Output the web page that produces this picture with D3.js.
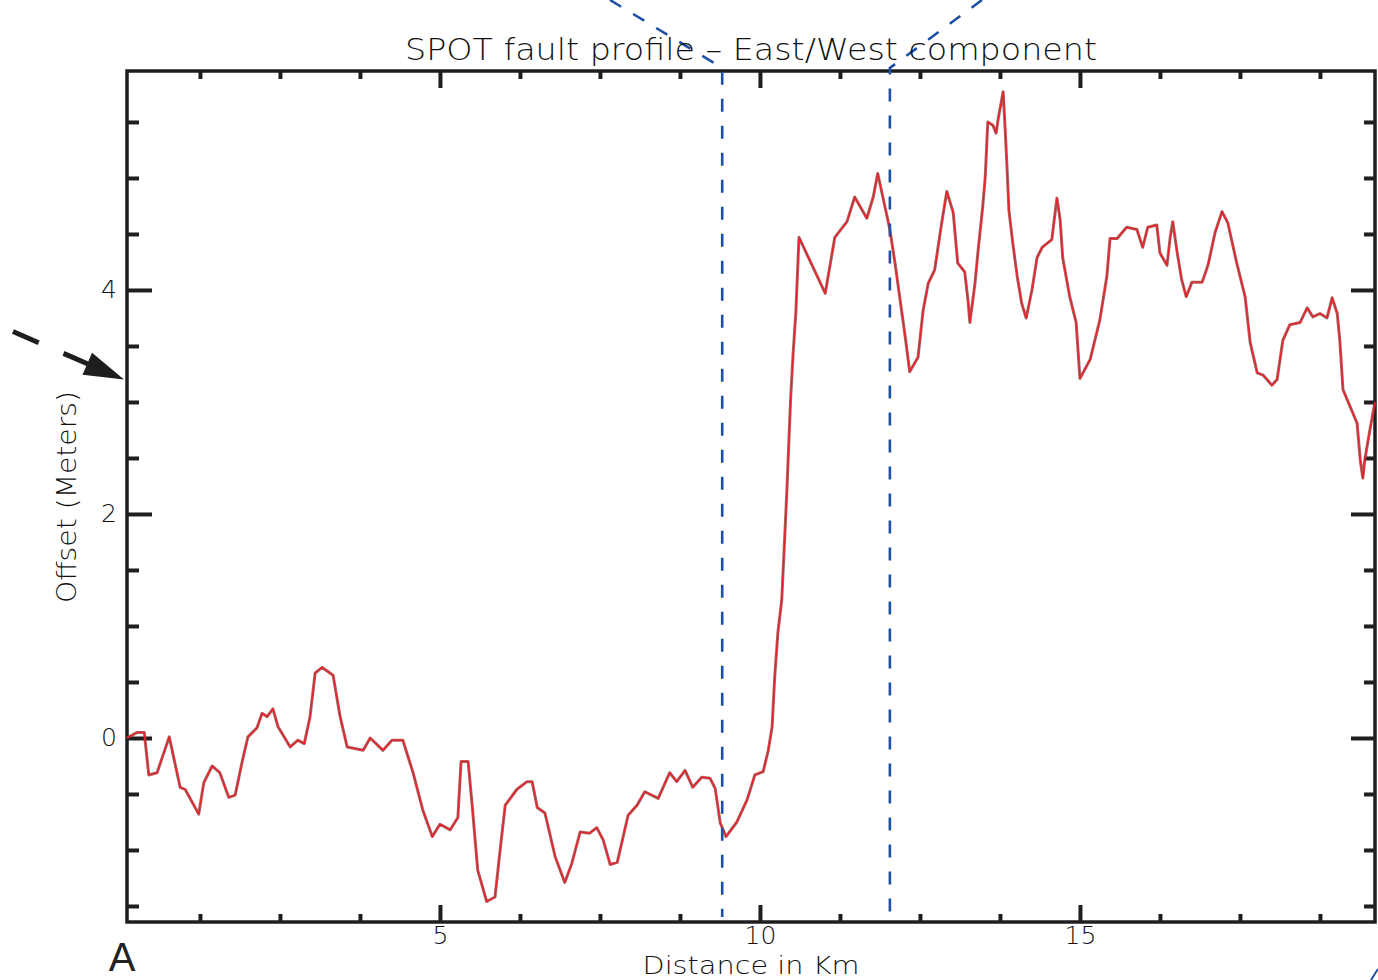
<!DOCTYPE html>
<html lang="en">
<head>
    <meta charset="UTF-8">
    <title>SPOT fault profile - East/West component</title>
    <script src="https://d3js.org/d3.v7.min.js"></script>
    <style>
        body { margin: 0; background: #fff; }
        svg { display: block; }
        .axis text { font-family: "DejaVu Sans", sans-serif; font-weight: 200; font-size: 25px; fill: #111; }
        .axis path { display: none; }
        .axis line { stroke: #1e1e1e; stroke-width: 4; }
        .label { font-family: "DejaVu Sans", sans-serif; font-weight: 200; fill: #111; }
    </style>
</head>
<body>
<div id="chart"></div>
<script>
    // profile: distance (km) and offset (m)
    const distKm = [0.11, 0.27, 0.38, 0.45, 0.58, 0.77, 0.94, 1.02, 1.23, 1.31, 1.44, 1.56, 1.70, 1.80, 1.91, 2.00,
        2.14, 2.22, 2.30, 2.39, 2.47, 2.66, 2.78, 2.88, 2.97, 3.05, 3.16, 3.33, 3.44, 3.55, 3.80, 3.91, 4.11, 4.25,
        4.42, 4.58, 4.73, 4.88, 5.00, 5.16, 5.28, 5.33, 5.44, 5.50, 5.59, 5.73, 5.86, 5.94, 6.02, 6.20, 6.36, 6.44,
        6.52, 6.64, 6.80, 6.95, 7.06, 7.19, 7.34, 7.45, 7.55, 7.66, 7.77, 7.94, 8.08, 8.20, 8.41, 8.59, 8.70, 8.83,
        8.95, 9.09, 9.22, 9.30, 9.38, 9.47, 9.64, 9.80, 9.92, 10.05, 10.13, 10.19, 10.23, 10.28, 10.34, 10.38, 10.42,
        10.45, 10.48, 10.52, 10.56, 10.61, 11.02, 11.17, 11.36, 11.48, 11.67, 11.77, 11.84, 11.92, 12.03, 12.11,
        12.19, 12.27, 12.34, 12.47, 12.55, 12.63, 12.73, 12.84, 12.92, 13.02, 13.09, 13.20, 13.25, 13.28, 13.36,
        13.41, 13.48, 13.52, 13.56, 13.64, 13.69, 13.72, 13.80, 13.83, 13.86, 13.89, 13.95, 14.02, 14.09, 14.16,
        14.25, 14.33, 14.41, 14.56, 14.64, 14.69, 14.73, 14.84, 14.94, 15.00, 15.16, 15.31, 15.42, 15.47, 15.58,
        15.73, 15.89, 15.98, 16.06, 16.20, 16.25, 16.36, 16.41, 16.45, 16.52, 16.59, 16.66, 16.75, 16.91, 17.00,
        17.11, 17.22, 17.31, 17.45, 17.58, 17.66, 17.77, 17.86, 18.00, 18.08, 18.17, 18.28, 18.44, 18.55, 18.64,
        18.75, 18.86, 18.94, 19.02, 19.06, 19.11, 19.22, 19.33, 19.38, 19.42, 19.45, 19.53, 19.61];
    const offsetM = [0.00, 0.05, 0.05, -0.33, -0.31, 0.01, -0.44, -0.46, -0.68, -0.40, -0.25, -0.31, -0.53, -0.51,
        -0.21, 0.01, 0.09, 0.22, 0.19, 0.26, 0.10, -0.08, -0.02, -0.05, 0.19, 0.58, 0.63, 0.56, 0.19, -0.08, -0.11,
        0.00, -0.11, -0.02, -0.02, -0.31, -0.64, -0.88, -0.77, -0.82, -0.71, -0.21, -0.21, -0.58, -1.18, -1.46,
        -1.42, -1.00, -0.60, -0.46, -0.39, -0.39, -0.62, -0.67, -1.06, -1.29, -1.12, -0.84, -0.85, -0.80, -0.91,
        -1.13, -1.11, -0.69, -0.60, -0.48, -0.54, -0.31, -0.39, -0.29, -0.44, -0.35, -0.36, -0.45, -0.76, -0.88,
        -0.75, -0.55, -0.33, -0.30, -0.11, 0.10, 0.54, 0.94, 1.23, 1.71, 2.20, 2.62, 3.04, 3.45, 3.79, 4.47, 3.97,
        4.47, 4.61, 4.83, 4.64, 4.83, 5.04, 4.83, 4.54, 4.24, 3.91, 3.58, 3.27, 3.40, 3.82, 4.06, 4.18, 4.60, 4.88,
        4.69, 4.24, 4.16, 3.91, 3.71, 4.06, 4.36, 4.74, 5.01, 5.50, 5.47, 5.40, 5.52, 5.77, 5.45, 5.10, 4.71, 4.42,
        4.12, 3.88, 3.75, 4.00, 4.29, 4.38, 4.45, 4.82, 4.63, 4.29, 3.94, 3.71, 3.21, 3.38, 3.73, 4.12, 4.46, 4.46,
        4.56, 4.54, 4.38, 4.56, 4.58, 4.33, 4.22, 4.47, 4.61, 4.33, 4.09, 3.94, 4.07, 4.07, 4.22, 4.51, 4.70, 4.60,
        4.24, 3.94, 3.53, 3.26, 3.24, 3.15, 3.20, 3.55, 3.69, 3.71, 3.84, 3.76, 3.79, 3.75, 3.93, 3.79, 3.55, 3.11,
        2.96, 2.81, 2.48, 2.32, 2.48, 2.75, 3.00];

    const xMajor = [5, 10, 15];
    const xMinor = [1.25, 2.5, 3.75, 6.25, 7.5, 8.75, 11.25, 12.5, 13.75, 16.25, 17.5, 18.75];
    const yMajor = [0, 2, 4];
    const yMinor = [-1.5, -1, -0.5, 0.5, 1, 1.5, 2.5, 3, 3.5, 4.5, 5, 5.5];

    // dashed blue section markers (km) and the arrow target on the offset axis (m)
    const markerKm = [9.41, 12.03];
    const arrowOffset = 3.2;

    const W = 1378, H = 980;
    const margin = { top: 71, right: 3, bottom: 58, left: 127 };
    const width = W - margin.left - margin.right,
          height = H - margin.top - margin.bottom;

    const svg = d3.select("#chart").append("svg")
        .attr("width", W)
        .attr("height", H);

    const g = svg.append("g")
        .attr("transform", `translate(${margin.left},${margin.top})`);

    const x = d3.scaleLinear().domain([0.11, 19.61]).range([0, width]);
    const y = d3.scaleLinear().domain([-1.643, 5.955]).range([height, 0]);

    // axes: ticks point inwards, mirrored on top and right
    g.append("g").attr("class", "axis")
        .attr("transform", `translate(0,${height})`)
        .call(d3.axisBottom(x).tickValues(xMajor).tickSize(-17).tickPadding(4).tickFormat(d3.format("d")));
    g.append("g").attr("class", "axis")
        .attr("transform", `translate(0,${height})`)
        .call(d3.axisBottom(x).tickValues(xMinor).tickSize(-8).tickFormat(""));
    g.append("g").attr("class", "axis")
        .call(d3.axisTop(x).tickValues(xMajor).tickSize(-17).tickFormat(""));
    g.append("g").attr("class", "axis")
        .call(d3.axisTop(x).tickValues(xMinor).tickSize(-8).tickFormat(""));

    g.append("g").attr("class", "axis")
        .call(d3.axisLeft(y).tickValues(yMajor).tickSize(-25).tickPadding(10).tickFormat(d3.format("d")));
    g.append("g").attr("class", "axis")
        .call(d3.axisLeft(y).tickValues(yMinor).tickSize(-12).tickFormat(""));
    g.append("g").attr("class", "axis")
        .attr("transform", `translate(${width},0)`)
        .call(d3.axisRight(y).tickValues(yMajor).tickSize(-24).tickFormat(""));
    g.append("g").attr("class", "axis")
        .attr("transform", `translate(${width},0)`)
        .call(d3.axisRight(y).tickValues(yMinor).tickSize(-11).tickFormat(""));

    // frame
    g.append("rect")
        .attr("width", width)
        .attr("height", height)
        .attr("fill", "none")
        .attr("stroke", "#1e1e1e")
        .attr("stroke-width", 3.5);

    // profile line
    const points = distKm.map((d, i) => [d, offsetM[i]]);
    const line = d3.line().x(d => x(d[0])).y(d => y(d[1]));

    g.append("path")
        .datum(points)
        .attr("fill", "none")
        .attr("stroke", "#8c3434")
        .attr("stroke-opacity", 0.75)
        .attr("stroke-width", 3)
        .attr("stroke-linejoin", "round")
        .attr("d", line);
    g.append("path")
        .datum(points)
        .attr("fill", "none")
        .attr("stroke", "#e8232b")
        .attr("stroke-width", 1.4)
        .attr("stroke-linejoin", "round")
        .attr("d", line);

    // blue dashed markers with the callout diagonals going off the top
    const blue = "#1d4fa5";
    const mk = markerKm.map(k => margin.left + x(k));
    const markTop = margin.top - 3, markBottom = margin.top + height - 5;
    svg.append("path")
        .attr("d", `M610,0 L${mk[0]},${markTop} L${mk[0]},${markBottom}`)
        .attr("fill", "none").attr("stroke", blue).attr("stroke-width", 2.6)
        .attr("stroke-dasharray", "13,14");
    svg.append("path")
        .attr("d", `M982,0 L${mk[1]},${markTop} L${mk[1]},${markBottom}`)
        .attr("fill", "none").attr("stroke", blue).attr("stroke-width", 2.6)
        .attr("stroke-dasharray", "13,14");
    svg.append("line")
        .attr("x1", 1371).attr("y1", 980).attr("x2", 1378).attr("y2", 969)
        .attr("stroke", blue).attr("stroke-width", 2);

    // black dashed arrow pointing at the offset axis
    const tip = [margin.left - 3, margin.top + y(arrowOffset)];
    const tail = [13, tip[1] - 48];
    const dx = tip[0] - tail[0], dy = tip[1] - tail[1];
    const len = Math.hypot(dx, dy), ux = dx / len, uy = dy / len;
    const headLen = 40, headHalf = 12;
    const base = [tip[0] - ux * headLen, tip[1] - uy * headLen];
    svg.append("line")
        .attr("x1", tail[0]).attr("y1", tail[1])
        .attr("x2", base[0] + ux * 4).attr("y2", base[1] + uy * 4)
        .attr("stroke", "#1e1e1e").attr("stroke-width", 5)
        .attr("stroke-dasharray", "28,27");
    svg.append("path")
        .attr("d", `M${tip[0]},${tip[1]} L${base[0] - uy * headHalf},${base[1] + ux * headHalf} L${base[0] + uy * headHalf},${base[1] - ux * headHalf} Z`)
        .attr("fill", "#1e1e1e");

    // titles
    svg.append("text")
        .attr("class", "label")
        .attr("x", 751).attr("y", 60)
        .attr("text-anchor", "middle")
        .attr("font-size", 30)
        .attr("textLength", 692)
        .attr("lengthAdjust", "spacingAndGlyphs")
        .text("SPOT fault profile – East/West component");

    svg.append("text")
        .attr("class", "label")
        .attr("x", 751).attr("y", 974)
        .attr("text-anchor", "middle")
        .attr("font-size", 25)
        .attr("textLength", 217)
        .attr("lengthAdjust", "spacingAndGlyphs")
        .text("Distance in Km");

    svg.append("text")
        .attr("class", "label")
        .attr("transform", "translate(76,497) rotate(-90)")
        .attr("text-anchor", "middle")
        .attr("font-size", 27)
        .attr("textLength", 212)
        .attr("lengthAdjust", "spacingAndGlyphs")
        .text("Offset (Meters)");

    svg.append("text")
        .attr("x", 122).attr("y", 971)
        .attr("text-anchor", "middle")
        .attr("font-family", "Liberation Sans, Arial, sans-serif")
        .attr("font-size", 40)
        .attr("fill", "#222")
        .text("A");
</script>
</body>
</html>
